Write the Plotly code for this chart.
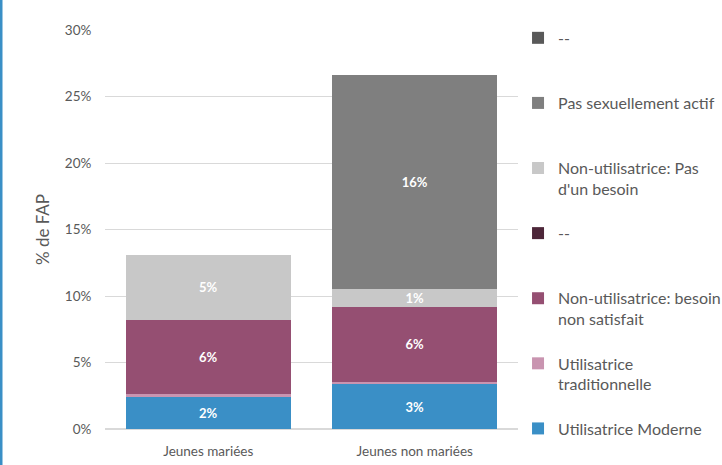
import plotly.graph_objects as go

categories = ["Jeunes mariées", "Jeunes non mariées"]

# one list per segment, in % of women (bottom of the stack first)
moderne = [2.43, 3.36]
traditionnelle = [0.18, 0.2]
besoin_non_satisfait = [5.6, 5.64]
tiret_violet = [0, 0]
pas_de_besoin = [4.9, 1.33]
pas_actif = [0, 16.08]
tiret_gris = [0, 0]

series = [
    ("Utilisatrice Moderne", moderne, "#3a8fc6", True),
    ("Utilisatrice<br>traditionnelle", traditionnelle, "#c994b0", False),
    ("Non-utilisatrice: besoin<br>non satisfait", besoin_non_satisfait, "#954f72", True),
    ("--", tiret_violet, "#4d2639", False),
    ("Non-utilisatrice: Pas<br>d'un besoin", pas_de_besoin, "#c8c8c8", True),
    ("Pas sexuellement actif", pas_actif, "#7f7f7f", True),
    ("--", tiret_gris, "#595959", False),
]

fig = go.Figure()
for i, (name, vals, color, labelled) in enumerate(series):
    # pad legend entries to two lines so the spacing stays even (bottom one excepted)
    legend_name = name if (i == 0 or "<br>" in name) else name + "<br> "
    text = [f"{round(v)}%" if (labelled and v > 0.5) else "" for v in vals]
    fig.add_trace(go.Bar(
        x=categories, y=vals, name=legend_name,
        marker=dict(color=color, line=dict(width=0)),
        text=text, textposition="inside", insidetextanchor="middle",
        textangle=0, constraintext="none",
        textfont=dict(color="white", size=13, family="Lato", weight="bold"),
        legendgroup=f"g{i}", legendrank=10 - i,
        hoverinfo="skip",
    ))

fig.update_layout(
    width=722, height=465,
    barmode="stack", bargap=0.2,
    margin=dict(l=105, r=204, t=30, b=36),
    paper_bgcolor="white", plot_bgcolor="white",
    font=dict(family="Lato", color="#595959", size=13.5),
    legend=dict(
        xref="container", yref="container",
        x=0.7175, xanchor="left", y=0.955, yanchor="top",
        traceorder="grouped", tracegroupgap=20.5, valign="top",
        font=dict(size=16, color="#595959"),
        itemwidth=30, maxheight=1,
    ),
    xaxis=dict(showline=False, ticks="", ticklabelstandoff=12, automargin=False),
    yaxis=dict(
        range=[0, 30], dtick=5, ticksuffix="%", automargin=False,
        gridcolor="#d9d9d9", gridwidth=1, zeroline=True, zerolinecolor="#d9d9d9",
        ticks="outside", ticklen=10, tickcolor="rgba(0,0,0,0)",
        title=dict(text="% de FAP", font=dict(size=17), standoff=10),
    ),
    shapes=[dict(type="line", xref="paper", yref="paper",
                 x0=-104 / 413, x1=-104 / 413, y0=-36 / 399, y1=1 + 30 / 399,
                 line=dict(color="#3a8fc6", width=3))],
)

fig.write_html("out.html", config={"displayModeBar": False},
               post_script="document.body.style.margin='0';")
